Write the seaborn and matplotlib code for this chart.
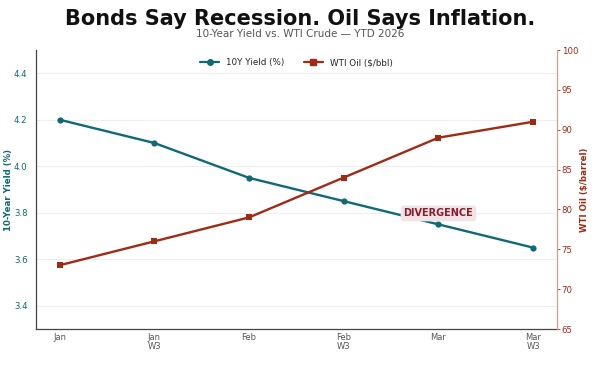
import matplotlib
matplotlib.use("Agg")
import matplotlib.pyplot as plt
import seaborn as sns
import pandas as pd
from matplotlib.lines import Line2D

# ============================================================
# DATA
# ============================================================
periods = ["Jan", "Jan\nW3", "Feb", "Feb\nW3", "Mar", "Mar\nW3"]
yield_10y = [4.20, 4.10, 3.95, 3.85, 3.75, 3.65]
wti_oil = [73, 76, 79, 84, 89, 91]

TEAL = "#0e6a76"
RUST = "#a02a12"

df = pd.DataFrame({"x": range(len(periods)), "yield": yield_10y, "oil": wti_oil})

sns.set_style("white")
plt.rcParams["font.family"] = ["DejaVu Sans"]

fig, ax = plt.subplots(figsize=(6, 3.65), dpi=100)
fig.subplots_adjust(left=0.06, right=0.928, top=0.863, bottom=0.0986)
ax2 = ax.twinx()

sns.lineplot(data=df, x="x", y="yield", ax=ax, color=TEAL, marker="o",
             markersize=4.5, linewidth=1.7, markeredgewidth=0)
sns.lineplot(data=df, x="x", y="oil", ax=ax2, color=RUST, marker="s",
             markersize=4.5, linewidth=1.7, markeredgewidth=0)

ax.set_xlim(-0.25, 5.25)
ax.set_ylim(3.3, 4.5)
ax2.set_ylim(65, 100)
ax.set_yticks([3.4, 3.6, 3.8, 4.0, 4.2, 4.4])
ax2.set_yticks([65, 70, 75, 80, 85, 90, 95, 100])
ax.set_xticks(range(len(periods)))
ax.set_xticklabels(periods, fontsize=6, color="#555555", linespacing=1.0)
ax.tick_params(axis="x", length=0, pad=3)
ax.tick_params(axis="y", labelsize=6.2, labelcolor=TEAL, length=0, pad=6)
ax2.tick_params(axis="y", labelsize=6.2, labelcolor=RUST, color=RUST, length=2,
                width=0.6, pad=1.5)

ax.grid(axis="y", color="#eeeeee", linewidth=0.8)
ax.set_axisbelow(True)
ax.set_xlabel("")
ax.set_ylabel("10-Year Yield (%)", color=TEAL, fontsize=6.2, fontweight="bold", labelpad=0.5)
ax2.set_ylabel("WTI Oil ($/barrel)", color=RUST, fontsize=6.2, fontweight="bold", labelpad=1)

for a in (ax, ax2):
    a.spines["top"].set_visible(False)
ax.spines["left"].set_color("#444444")
ax.spines["bottom"].set_color("#444444")
ax.spines["right"].set_visible(False)
ax2.spines["left"].set_visible(False)
ax2.spines["bottom"].set_visible(False)
ax2.spines["right"].set_color("#c9a096")
for s in ("left", "bottom"):
    ax.spines[s].set_linewidth(0.9)
ax2.spines["right"].set_linewidth(0.9)

handles = [
    Line2D([], [], color=TEAL, marker="o", markersize=4, linewidth=1.6, label="10Y Yield (%)"),
    Line2D([], [], color=RUST, marker="s", markersize=4, linewidth=1.6, label="WTI Oil ($/bbl)"),
]
ax.legend(handles=handles, loc="center", ncol=2, frameon=False,
          fontsize=6.3, bbox_to_anchor=(0.5, 0.955), columnspacing=2.2, handlelength=2.2)

ax2.text(4, 79.5, "DIVERGENCE", fontsize=7, fontweight="bold", color="#8a1c2c",
         ha="center", va="center",
         bbox=dict(boxstyle="round,pad=0.3", facecolor="#f1e4e6", edgecolor="none"))

fig.text(0.5, 0.932, "Bonds Say Recession. Oil Says Inflation.", ha="center",
         va="baseline", fontsize=15, fontweight="bold", color="#111111")
fig.text(0.5, 0.899, "10-Year Yield vs. WTI Crude \u2014 YTD 2026", ha="center",
         va="baseline", fontsize=7.5, color="#555555")

fig.savefig("out.png", dpi=100)
